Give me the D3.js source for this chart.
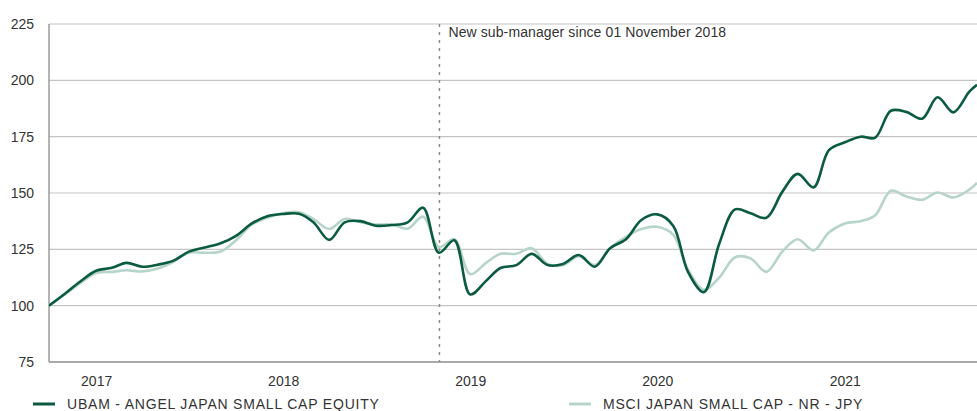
<!DOCTYPE html>
<html>
<head>
<meta charset="utf-8">
<script src="https://cdn.jsdelivr.net/npm/d3@7"></script>
<style>
  html, body { margin: 0; padding: 0; background: #fff; }
  svg { display: block; font-family: "Liberation Sans", Arial, sans-serif; }
</style>
</head>
<body>
<svg id="chart" width="977" height="411"></svg>
<script>
// ---- Data ----
const dates = [
  "2016-09-30","2016-10-31","2016-11-30","2016-12-31",
  "2017-01-31","2017-02-28","2017-03-31","2017-04-30","2017-05-31","2017-06-30",
  "2017-07-31","2017-08-31","2017-09-30","2017-10-31","2017-11-30","2017-12-31",
  "2018-01-31","2018-02-28","2018-03-31","2018-04-30","2018-05-31","2018-06-30",
  "2018-07-31","2018-08-31","2018-09-30","2018-10-31","2018-11-30","2018-12-31",
  "2019-01-31","2019-02-28","2019-03-31","2019-04-30","2019-05-31","2019-06-30",
  "2019-07-31","2019-08-31","2019-09-30","2019-10-31","2019-11-30","2019-12-31",
  "2020-01-31","2020-02-29","2020-03-31","2020-04-30","2020-05-31","2020-06-30",
  "2020-07-31","2020-08-31","2020-09-30","2020-10-31","2020-11-30","2020-12-31",
  "2021-01-31","2021-02-28","2021-03-31","2021-04-30","2021-05-31","2021-06-30",
  "2021-07-31","2021-08-31","2021-09-15"
];
const fundValues = [
  100, 105.3, 110.7, 115.5,
  116.8, 119, 117.3, 118.2, 120, 124,
  125.8, 127.7, 131, 136.5, 139.7, 140.7,
  140.8, 137, 129.2, 137, 137.5, 135.5,
  135.8, 137, 143.5, 123.5, 129, 105,
  111, 116.7, 118, 123, 118, 118.5,
  122.5, 117.3, 125.5, 129.5, 138, 140.5,
  135.5, 115, 106, 127.5, 142.7, 141,
  139, 150.5, 158.5, 152.5, 169, 172.5,
  175, 174.5, 186.5, 186, 183, 192.5,
  185.8, 195, 198
];
const benchValues = [
  100, 105, 110, 114.5,
  115, 115.7, 115.2, 116.5, 119.5, 123.5,
  123.5, 124, 129, 136, 139, 141,
  141.5, 138.5, 134, 138.5, 137, 136,
  136, 134.2, 139.5, 126, 129.5, 114,
  119, 123, 123, 125.5, 118.5, 118,
  122, 118, 125.5, 130.5, 134, 135,
  131.5, 116, 107, 112.5, 121.5, 121,
  115, 124, 129.5, 124.5, 132.5, 136.5,
  137.5, 140, 151, 148.5, 147, 150.2,
  148, 151.5, 154.5
];
const yTicks = [75, 100, 125, 150, 175, 200, 225];
const xTickDates = ["2017-01-01", "2018-01-01", "2019-01-01", "2020-01-01", "2021-01-01"];
const xTickLabels = ["2017", "2018", "2019", "2020", "2021"];
const seriesNames = ["UBAM - ANGEL JAPAN SMALL CAP EQUITY", "MSCI JAPAN SMALL CAP - NR - JPY"];
const annotationDate = "2018-11-01";
const annotationText = "New sub-manager since 01 November 2018";

(function () {
// ---- Layout ----
const W = 977, H = 411;
const mLeft = 49, mRight = 977, mTop = 24, mBottom = 362;
const parse = d3.utcParse("%Y-%m-%d");
const dts = dates.map(parse);

const x = d3.scaleUtc().domain([dts[0], dts[dts.length - 1]]).range([mLeft, mRight]);
const y = d3.scaleLinear().domain([75, 225]).range([mBottom, mTop]);

const svg = d3.select("#chart");

// gridlines
svg.append("g").selectAll("line").data(yTicks.filter(t => t > 75)).join("line")
  .attr("x1", mLeft).attr("x2", mRight)
  .attr("y1", d => y(d)).attr("y2", d => y(d))
  .attr("stroke", "#c4c4c4").attr("stroke-width", 1.2);

// y axis labels
svg.append("g").selectAll("text").data(yTicks).join("text")
  .attr("x", 34).attr("y", d => y(d)).attr("dy", "0.35em")
  .attr("text-anchor", "end").attr("font-size", 14).attr("fill", "#333")
  .text(d => d);

// axis lines
svg.append("line").attr("x1", mLeft).attr("x2", mRight).attr("y1", mBottom).attr("y2", mBottom)
  .attr("stroke", "#8c8c8c").attr("stroke-width", 1.3);
svg.append("line").attr("x1", mLeft).attr("x2", mLeft).attr("y1", mTop).attr("y2", mBottom)
  .attr("stroke", "#8c8c8c").attr("stroke-width", 1.3);

// x labels
svg.append("g").selectAll("text").data(xTickDates).join("text")
  .attr("x", d => x(parse(d))).attr("y", 386)
  .attr("text-anchor", "middle").attr("font-size", 14).attr("fill", "#333")
  .text((d, i) => xTickLabels[i]);

// annotation
const ax = x(parse(annotationDate));
svg.append("line").attr("x1", ax).attr("x2", ax).attr("y1", mTop).attr("y2", mBottom)
  .attr("stroke", "#8a8a8a").attr("stroke-width", 1.5).attr("stroke-dasharray", "3,5");
svg.append("text").attr("x", ax + 9).attr("y", 37)
  .attr("font-size", 14).attr("fill", "#333").attr("letter-spacing", 0.1).text(annotationText);

// lines
svg.append("clipPath").attr("id", "clip").append("rect")
  .attr("x", mLeft).attr("y", 0).attr("width", mRight - mLeft).attr("height", H);
const line = d3.line().x(d => x(d[0])).y(d => y(d[1])).curve(d3.curveCatmullRom.alpha(0.5));
const g = svg.append("g").attr("clip-path", "url(#clip)");
g.append("path").datum(dts.map((d, i) => [d, benchValues[i]]))
  .attr("d", line).attr("fill", "none").attr("stroke", "#b7d4c9").attr("stroke-width", 2.6);
g.append("path").datum(dts.map((d, i) => [d, fundValues[i]]))
  .attr("d", line).attr("fill", "none").attr("stroke", "#0b5b3e").attr("stroke-width", 2.6);

// legend
const legend = [
  { name: seriesNames[0], color: "#0b5b3e", x: 33 },
  { name: seriesNames[1], color: "#b7d4c9", x: 569 }
];
const lg = svg.append("g").selectAll("g").data(legend).join("g");
lg.append("line").attr("x1", d => d.x).attr("x2", d => d.x + 22)
  .attr("y1", 404).attr("y2", 404).attr("stroke", d => d.color).attr("stroke-width", 3);
lg.append("text").attr("x", d => d.x + 34).attr("y", 404).attr("dy", "0.35em")
  .attr("font-size", 14).attr("fill", "#333").attr("letter-spacing", 0.8).text(d => d.name);
})();
</script>
</body>
</html>
